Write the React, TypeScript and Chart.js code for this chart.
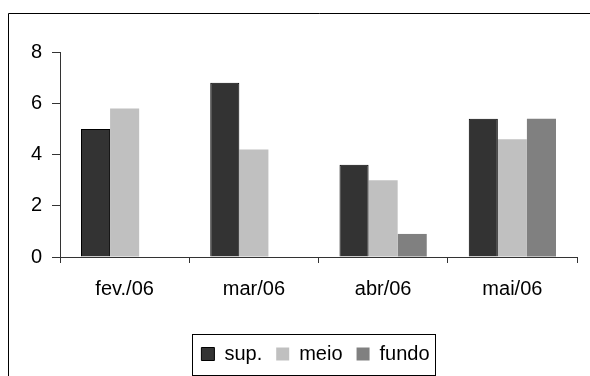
import { useEffect, useRef } from 'react';
import { Chart, registerables } from 'chart.js';

Chart.register(...registerables);

const categories = ['fev./06', 'mar/06', 'abr/06', 'mai/06'];
const seriesNames = ['sup.', 'meio', 'fundo'];
const supValues = [5.0, 6.8, 3.6, 5.4];
const meioValues = [5.8, 4.2, 3.0, 4.6];
const fundoValues: (number | null)[] = [null, null, 0.9, 5.4];
const yMin = 0;
const yMax = 8;
const yStep = 2;

const FONT = '"Liberation Sans", Arial, sans-serif';
const FS = 20;
const CW = 631;
const CH = 400;
const PAD_TOP = 52;
const PAD_BOTTOM = 26;
const AREA_BOTTOM = 257;

const framePlugin = {
  id: 'frame',
  beforeDraw(chart: any) {
    const ctx = chart.ctx;
    ctx.save();
    ctx.fillStyle = '#ffffff';
    ctx.fillRect(0, 0, chart.width, chart.height);
    ctx.strokeStyle = '#000000';
    ctx.lineWidth = 1;
    ctx.beginPath();
    ctx.moveTo(8.5, CH);
    ctx.lineTo(8.5, 13.5);
    ctx.lineTo(CW, 13.5);
    ctx.stroke();
    ctx.restore();
  },
  afterDraw(chart: any) {
    const boxes = chart.legend?.legendHitBoxes;
    if (!boxes || !boxes.length) return;
    let l = Infinity, r = -Infinity, cy = 0;
    boxes.forEach((b: any) => {
      l = Math.min(l, b.left);
      r = Math.max(r, b.left + b.width);
      cy = b.top + b.height / 2;
    });
    const ctx = chart.ctx;
    ctx.save();
    ctx.strokeStyle = '#000000';
    ctx.lineWidth = 1;
    ctx.strokeRect(Math.round(l - 9) + 0.5, Math.round(cy - 20) + 0.5, Math.round(r - l + 15), 41);
    ctx.restore();
  },
};

export default function App() {
  const ref = useRef<HTMLCanvasElement | null>(null);

  useEffect(() => {
    if (!ref.current) return;
    const chart = new Chart(ref.current, {
      type: 'bar',
      data: {
        labels: categories,
        datasets: [
          {
            label: seriesNames[0],
            data: supValues,
            backgroundColor: '#333333',
            borderColor: '#000000',
            borderWidth: 1,
            borderSkipped: 'bottom',
          },
          {
            label: seriesNames[1],
            data: meioValues,
            backgroundColor: '#c0c0c0',
            borderColor: '#c0c0c0',
            borderWidth: 0,
          },
          {
            label: seriesNames[2],
            data: fundoValues,
            backgroundColor: '#808080',
            borderColor: '#808080',
            borderWidth: 0,
          },
        ],
      },
      options: {
        responsive: false,
        animation: false,
        devicePixelRatio: 1,
        layout: { padding: { top: PAD_TOP, bottom: PAD_BOTTOM, left: 0, right: 0 } },
        datasets: { bar: { categoryPercentage: 0.675, barPercentage: 1 } },
        plugins: {
          tooltip: { enabled: false },
          legend: {
            position: 'bottom',
            labels: {
              boxWidth: 13,
              boxHeight: 13,
              padding: 14,
              color: '#000000',
              font: { family: FONT, size: FS },
            },
          },
        },
        scales: {
          x: {
            grid: {
              offset: true,
              drawOnChartArea: false,
              drawTicks: true,
              tickLength: 6,
              color: '#333333',
            },
            border: { display: true, color: '#333333', width: 1 },
            ticks: { color: '#000000', padding: 14, font: { family: FONT, size: FS } },
            afterFit: (s: any) => {
              const lh = s.chart.legend ? s.chart.legend.height : 44;
              s.height = CH - PAD_BOTTOM - lh - AREA_BOTTOM;
            },
          },
          y: {
            min: yMin,
            max: yMax,
            ticks: { stepSize: yStep, color: '#000000', padding: 10, font: { family: FONT, size: FS } },
            grid: { drawOnChartArea: false, drawTicks: true, tickLength: 8, color: '#333333' },
            border: { display: true, color: '#333333', width: 1 },
            afterFit: (s: any) => {
              s.width = 60;
            },
          },
          yRight: {
            type: 'linear',
            position: 'right',
            display: true,
            grid: { display: false, drawTicks: false },
            border: { display: false },
            ticks: { display: false },
            afterFit: (s: any) => {
              s.width = 54;
            },
          },
        },
      },
      plugins: [framePlugin],
    } as any);
    return () => chart.destroy();
  }, []);

  return (
    <div
      style={{
        position: 'fixed',
        left: 0,
        top: 0,
        width: 590,
        height: 376,
        overflow: 'hidden',
        background: '#ffffff',
      }}
    >
      <canvas ref={ref} width={CW} height={CH} style={{ display: 'block', width: CW, height: CH }} />
    </div>
  );
}
